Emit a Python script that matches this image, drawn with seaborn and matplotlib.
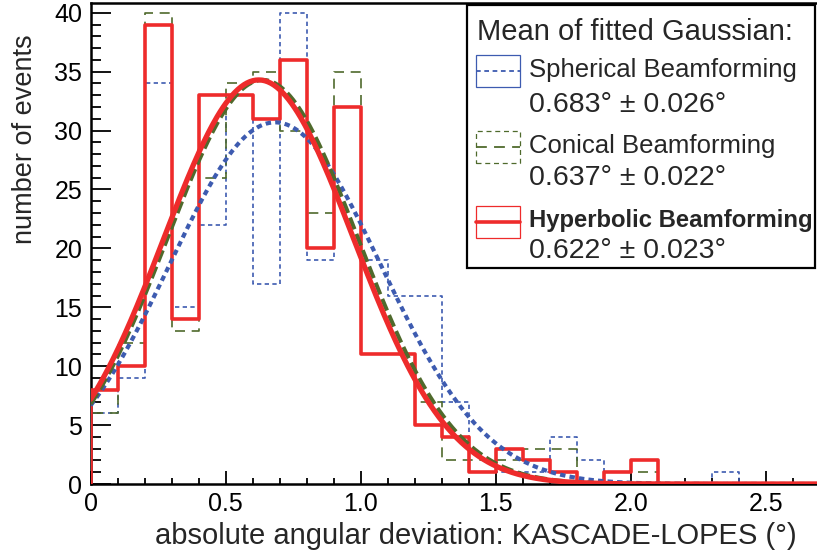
import numpy as np
import pandas as pd
import matplotlib
matplotlib.use("Agg")
import matplotlib.pyplot as plt
from matplotlib.ticker import MultipleLocator, FixedLocator
from matplotlib.patches import Rectangle
from matplotlib.lines import Line2D
import seaborn as sns

# ---------------- data ----------------
bin_width = 0.1
bin_lefts = np.round(np.arange(0, 27) * bin_width, 1)          # 0.0 ... 2.6
spherical_counts = [6, 9, 34, 15, 22, 33, 17, 40, 19, 32, 19, 16, 16, 7, 1, 1, 1, 4, 2, 0, 0, 0, 0, 1, 0, 0, 0]
conical_counts = [6, 12, 40, 13, 26, 34, 35, 30, 23, 35, 11, 11, 7, 2, 2, 2, 3, 3, 0, 1, 1, 0, 0, 0, 0, 0, 0]
hyperbolic_counts = [8, 10, 39, 14, 33, 33, 31, 36, 20, 32, 11, 11, 5, 4, 1, 3, 2, 1, 0, 1, 2, 0, 0, 0, 0, 0, 0]

series_names = ["Spherical Beamforming", "Conical Beamforming", "Hyperbolic Beamforming"]
fit_means = [0.683, 0.637, 0.622]
fit_errors = [0.026, 0.022, 0.023]
fit_amplitudes = [30.7, 34.3, 34.3]
fit_sigmas = [0.391, 0.354, 0.352]

x_tick_values = [0, 0.5, 1.0, 1.5, 2.0, 2.5]
x_tick_labels = ["0", "0.5", "1.0", "1.5", "2.0", "2.5"]
y_tick_values = [0, 5, 10, 15, 20, 25, 30, 35, 40]

# ---------------- style ----------------
sns.set_style("ticks")
plt.rcParams["font.family"] = ["Liberation Sans", "DejaVu Sans"]

W, H = 817, 556
fig = plt.figure(figsize=(W / 100, H / 100), dpi=100)
ax_left, ax_bottom, ax_w, ax_h = 90.7, 72, 742.5, 481
ax = fig.add_axes([ax_left / W, ax_bottom / H, ax_w / W, ax_h / H])

RED = "#ee2b2b"
BLUE = "#3d5bb0"
GREEN = "#4f6a2c"

counts_all = [spherical_counts, conical_counts, hyperbolic_counts]
colors = [BLUE, GREEN, RED]
hist_lw = [1.2, 1.2, 2.6]
hist_ls = [(0, (2.6, 2.0)), (0, (6, 4)), "-"]
curve_lw = [3.0, 3.0, 3.8]
curve_ls = [(0, (1.3, 1.0)), (0, (3.0, 1.2)), "-"]

# bin edges (one leading empty bin so the outline rises from zero at x=0)
edges = [float(e) for e in np.round(np.arange(-1, 28) * bin_width, 1)]
centers = bin_lefts + bin_width / 2

for cnts, c, lw, ls in zip(counts_all, colors, hist_lw, hist_ls):
    df = pd.DataFrame({"deviation": centers, "events": np.asarray(cnts, dtype=float)})
    before = len(ax.lines)
    sns.histplot(data=df, x="deviation", weights="events", bins=edges, element="step",
                 fill=False, color=c, linewidth=lw, ax=ax)
    for ln in ax.lines[before:]:
        ln.set_linestyle(ls)
        ln.set_zorder(3)

xs = np.linspace(0, 2.75, 500)
for mu, a, s, c, lw, ls in zip(fit_means, fit_amplitudes, fit_sigmas, colors, curve_lw, curve_ls):
    ys = a * np.exp(-0.5 * ((xs - mu) / s) ** 2)
    before = len(ax.lines)
    sns.lineplot(x=xs, y=ys, color=c, linewidth=lw, ax=ax, estimator=None, sort=False)
    for ln in ax.lines[before:]:
        ln.set_linestyle(ls)
        ln.set_zorder(4)

# ---------------- axes ----------------
ax.set_xlim(0, 2.75)
ax.set_ylim(0, 40.83)
ax.xaxis.set_major_locator(FixedLocator(x_tick_values))
ax.set_xticklabels(x_tick_labels)
ax.xaxis.set_minor_locator(MultipleLocator(0.1))
ax.yaxis.set_major_locator(FixedLocator(y_tick_values))
ax.yaxis.set_minor_locator(MultipleLocator(1))
ax.tick_params(axis="both", which="both", direction="in", colors="black", width=1.3)
ax.tick_params(axis="y", which="major", length=14.5, labelsize=18, pad=6)
ax.tick_params(axis="y", which="minor", length=7)
ax.tick_params(axis="x", which="major", length=9.5, labelsize=18, pad=6)
ax.tick_params(axis="x", which="minor", length=4.5)
for sp in ax.spines.values():
    sp.set_linewidth(1.8)
    sp.set_color("black")
    sp.set_zorder(2)

ax.set_xlabel("absolute angular deviation: KASCADE-LOPES (°)", fontsize=21, loc="right")
ax.xaxis.label.set_verticalalignment("baseline")
ax.xaxis.set_label_coords((797 - ax_left) / ax_w, -(543.5 - 484) / ax_h)
ax.set_ylabel("number of events", fontsize=19.5, loc="top")
ax.yaxis.set_label_coords((38 - ax_left) / ax_w, (484 - 34) / ax_h)

# ---------------- legend (drawn by hand, ROOT style) ----------------
def fx(px):
    return px / W

def fy(py):
    return 1 - py / H

box = Rectangle((fx(467), fy(268)), fx(815) - fx(467), fy(5) - fy(268),
                transform=fig.transFigure, facecolor="white", edgecolor="black",
                linewidth=1.6, zorder=10)
fig.add_artist(box)
fig.text(fx(477), fy(40.5), "Mean of fitted Gaussian:", fontsize=21, va="baseline",
         ha="left", zorder=11)

sym_tops = [55, 131, 206]
name_baselines = [76.5, 153, 227]
value_baselines = [112, 185, 258]
box_ls = ["-", (0, (4, 3)), "-"]
sym_lw = [1.3, 1.3, 2.6]
for i in range(3):
    t = sym_tops[i]
    r = Rectangle((fx(476), fy(t + 32)), fx(520) - fx(476), fy(t) - fy(t + 32),
                  transform=fig.transFigure, facecolor="none", edgecolor=colors[i],
                  linewidth=0.9, linestyle=box_ls[i], zorder=11)
    fig.add_artist(r)
    ln = Line2D([fx(476), fx(520)], [fy(t + 16), fy(t + 16)], transform=fig.transFigure,
                color=colors[i], linewidth=sym_lw[i], linestyle=hist_ls[i], zorder=12)
    fig.add_artist(ln)
    bold = i == 2
    fig.text(fx(529), fy(name_baselines[i]), series_names[i],
             fontsize=17.2 if bold else 18.5,
             fontweight="bold" if bold else "normal", va="baseline", ha="left", zorder=12)
    fig.text(fx(529), fy(value_baselines[i]),
             f"{fit_means[i]:.3f}° ± {fit_errors[i]:.3f}°", fontsize=20.5,
             va="baseline", ha="left", zorder=12)

fig.savefig("out.png", dpi=100)
